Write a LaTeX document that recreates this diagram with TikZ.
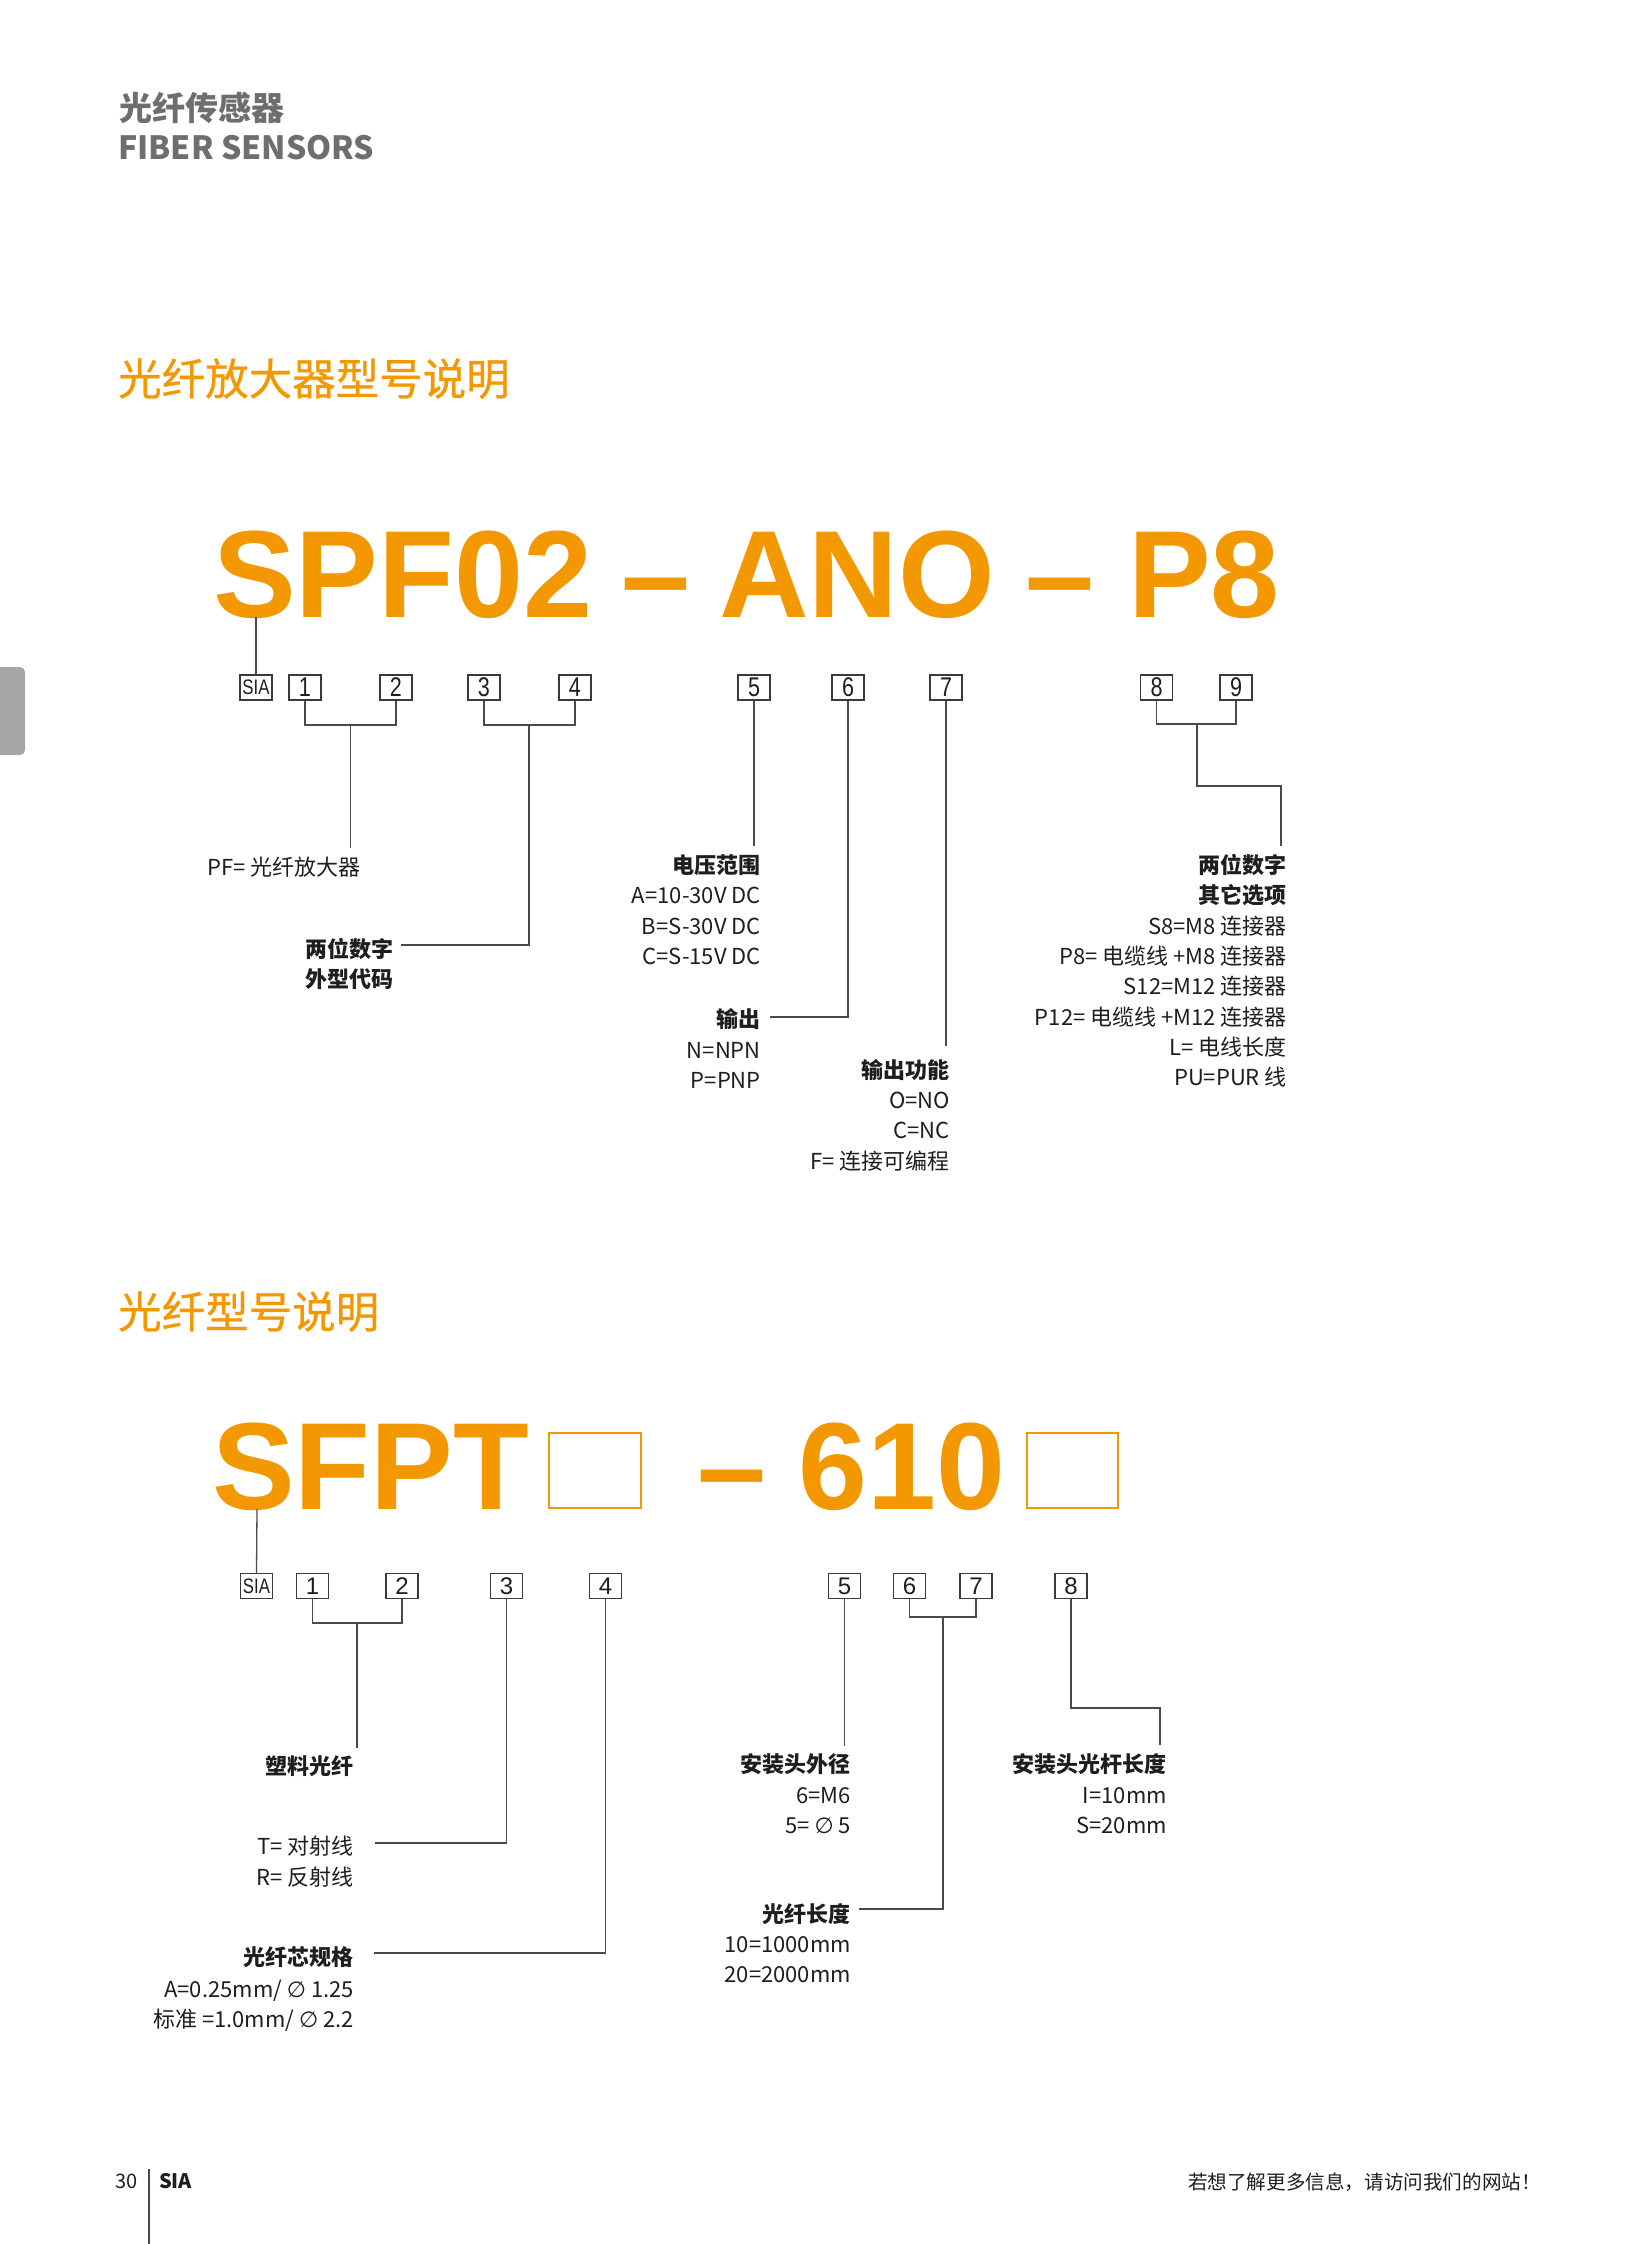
\documentclass[tikz,border=0pt]{standalone}
\usepackage{fontspec}
\setmainfont{Noto Sans CJK SC}
\newfontfamily\titlef{Noto Sans CJK SC}[FakeBold=0.6]
\newfontfamily\bigf{Liberation Sans}
\newfontfamily\narrowf{Liberation Sans}[FakeStretch=0.8]
\newfontfamily\symf{DejaVu Sans}
\definecolor{sorange}{HTML}{F39800}
\definecolor{hgray}{HTML}{6E6E6E}
\definecolor{tabgray}{HTML}{A6A6A6}
\definecolor{textc}{HTML}{1E1E1E}
\definecolor{boxc}{HTML}{3A3A3A}
\definecolor{linec}{HTML}{4A4A4A}
\tikzset{
  numbox/.style={draw=boxc, line width=1.4pt, minimum width=32pt, minimum height=25pt, inner sep=0pt, font=\narrowf\fontsize{27}{27}\selectfont, text=textc},
  numboxb/.style={numbox, font=\bigf\fontsize{24}{24}\selectfont},
  lbl/.style={inner sep=0pt, font=\fontsize{22}{30}\selectfont, text=textc},
  lblb/.style={inner sep=0pt, font=\bfseries\fontsize{22}{30}\selectfont, text=textc},
  conn/.style={draw=linec, line width=1.3pt},
  big/.style={inner sep=0pt, anchor=base west, font=\bigf\bfseries\fontsize{124}{124}\selectfont, text=sorange},
  sqbox/.style={draw=sorange, line width=2.2pt},
  stitle/.style={inner sep=0pt, anchor=base west, font=\titlef\fontsize{43.5}{44}\selectfont, text=sorange}
}
\begin{document}
\begin{tikzpicture}[x=1pt,y=-1pt]
\useasboundingbox (0,0) rectangle (1636,2244);
\fill[white] (0,0) rectangle (1636,2244);
% side tab
\fill[tabgray, rounded corners=5pt] (-10,667) rectangle (25,755);
% header
\node[inner sep=0pt, anchor=base west, text=hgray, font=\bfseries\fontsize{33}{33}\selectfont] (h1) at (119,120) {光纤传感器};
\node[inner sep=0pt, anchor=base west, text=hgray, font=\bfseries\fontsize{32}{32}\selectfont] (h2) at (118,159) {FIBER SENSORS};
% section 1
\node[stitle] (st1) at (118,395) {光纤放大器型号说明};
\node[big] (t1a) at (213,617) {SPF02};
\node[big] (t1b) at (621,617) {–};
\node[big] (t1c) at (719,617) {ANO};
\node[big] (t1d) at (1025,617) {–};
\node[big] (t1e) at (1128,617) {P8};
\coordinate (s1) at (256,617);
% boxes row 1
\node[numbox] (a0) at (256,687.5) {\fontsize{21}{21}\selectfont SIA};
\node[numbox] (a1) at (305,687.5) {1};
\node[numbox] (a2) at (396,687.5) {2};
\node[numbox] (a3) at (484,687.5) {3};
\node[numbox] (a4) at (575,687.5) {4};
\node[numbox] (a5) at (754,687.5) {5};
\node[numbox] (a6) at (848,687.5) {6};
\node[numbox] (a7) at (946,687.5) {7};
\node[numbox] (a8) at (1156.5,687.5) {8};
\node[numbox] (a9) at (1236,687.5) {9};
% connector points row 1
\coordinate (j12) at (350.5,725);
\coordinate (e12) at (350.5,848);
\coordinate (j34) at (529,725);
\coordinate (e34) at (401,945);
\coordinate (e5) at (754,846);
\coordinate (e6) at (770,1017);
\coordinate (e7) at (946,1046);
\coordinate (j89) at (1197,724);
\coordinate (k89) at (1197,786);
\coordinate (e89) at (1281,846);
\draw[conn] (s1) -- (a0.north);
\draw[conn] (a1.south) |- (j12) -| (a2.south);
\draw[conn] (j12) -- (e12);
\draw[conn] (a3.south) |- (j34) -| (a4.south);
\draw[conn] (j34) |- (e34);
\draw[conn] (a5.south) -- (e5);
\draw[conn] (a6.south) |- (e6);
\draw[conn] (a7.south) -- (e7);
\draw[conn] (a8.south) |- (j89) -| (a9.south);
\draw[conn] (j89) -- (k89) -| (e89);
% labels row 1
\node[lbl, anchor=base east] (pf) at (361,875) {PF= 光纤放大器};
\node[lblb, anchor=base west] (w1) at (305,957) {两位数字};
\node[lblb, anchor=base west] (w2) at (305,987) {外型代码};
\node[lblb, anchor=base east] (v0) at (761,873) {电压范围};
\node[lbl, anchor=base east] (v1) at (761,903.5) {A=10-30V DC};
\node[lbl, anchor=base east] (v2) at (761,934) {B=S-30V DC};
\node[lbl, anchor=base east] (v3) at (761,964) {C=S-15V DC};
\node[lblb, anchor=base east] (o0) at (761,1027) {输出};
\node[lbl, anchor=base east] (o1) at (761,1058) {N=NPN};
\node[lbl, anchor=base east] (o2) at (761,1088) {P=PNP};
\node[lblb, anchor=base east] (f0) at (950,1078) {输出功能};
\node[lbl, anchor=base east] (f1) at (950,1108) {O=NO};
\node[lbl, anchor=base east] (f2) at (950,1138) {C=NC};
\node[lbl, anchor=base east] (f3) at (950,1169) {F= 连接可编程};
\node[lblb, anchor=base east] (r0) at (1287,873) {两位数字};
\node[lblb, anchor=base east] (r1) at (1287,903.5) {其它选项};
\node[lbl, anchor=base east] (r2) at (1287,934) {S8=M8 连接器};
\node[lbl, anchor=base east] (r3) at (1287,964) {P8= 电缆线 +M8 连接器};
\node[lbl, anchor=base east] (r4) at (1287,994.5) {S12=M12 连接器};
\node[lbl, anchor=base east] (r5) at (1287,1025) {P12= 电缆线 +M12 连接器};
\node[lbl, anchor=base east] (r6) at (1287,1055) {L= 电线长度};
\node[lbl, anchor=base east] (r7) at (1287,1085) {PU=PUR 线};
% section 2
\node[stitle] (st2) at (118,1328) {光纤型号说明};
\node[big] (t2a) at (212,1509) {SFPT};
\draw[sqbox] (549,1433) rectangle (641,1508);
\node[big] (t2b) at (697,1509) {–};
\node[big] (t2c) at (798,1509) {610};
\draw[sqbox] (1027,1433) rectangle (1118,1508);
\coordinate (s2) at (257,1509);
% boxes row 2
\node[numbox] (b0) at (256.5,1586) {\fontsize{21}{21}\selectfont SIA};
\node[numboxb] (b1) at (312.5,1586) {1};
\node[numboxb] (b2) at (402,1586) {2};
\node[numboxb] (b3) at (506.5,1586) {3};
\node[numboxb] (b4) at (605.5,1586) {4};
\node[numboxb] (b5) at (844.5,1586) {5};
\node[numboxb] (b6) at (909.5,1586) {6};
\node[numboxb] (b7) at (976,1586) {7};
\node[numboxb] (b8) at (1071,1586) {8};
\coordinate (jb12) at (357,1623);
\coordinate (eb12) at (357,1748);
\coordinate (eb3) at (375,1843);
\coordinate (eb4) at (374,1953);
\coordinate (eb5) at (844.5,1746);
\coordinate (jb67) at (943,1617);
\coordinate (eb67) at (859,1909);
\coordinate (kb8) at (1071,1708);
\coordinate (eb8) at (1160,1745);
\draw[conn] (s2) -- (b0.north);
\draw[conn] (b1.south) |- (jb12) -| (b2.south);
\draw[conn] (jb12) -- (eb12);
\draw[conn] (b3.south) |- (eb3);
\draw[conn] (b4.south) |- (eb4);
\draw[conn] (b5.south) -- (eb5);
\draw[conn] (b6.south) |- (jb67) -| (b7.south);
\draw[conn] (jb67) |- (eb67);
\draw[conn] (b8.south) -- (kb8) -| (eb8);
% labels row 2
\node[lblb, anchor=base east] (p0) at (354,1774) {塑料光纤};
\node[lbl, anchor=base east] (q1) at (354,1854) {T= 对射线};
\node[lbl, anchor=base east] (q2) at (354,1885) {R= 反射线};
\node[lblb, anchor=base east] (c0) at (354,1965) {光纤芯规格};
\node[lbl, anchor=base east] (c1) at (354,1997) {A=0.25mm/ {\symf ∅} 1.25};
\node[lbl, anchor=base east] (c2) at (354,2027) {标准 =1.0mm/ {\symf ∅} 2.2};
\node[lblb, anchor=base east] (m0) at (851,1772) {安装头外径};
\node[lbl, anchor=base east] (m1) at (851,1803) {6=M6};
\node[lbl, anchor=base east] (m2) at (851,1833) {5= {\symf ∅} 5};
\node[lblb, anchor=base east] (g0) at (851,1922) {光纤长度};
\node[lbl, anchor=base east] (g1) at (851,1952) {10=1000mm};
\node[lbl, anchor=base east] (g2) at (851,1982) {20=2000mm};
\node[lblb, anchor=base east] (n0) at (1167,1772) {安装头光杆长度};
\node[lbl, anchor=base east] (n1) at (1167,1803) {I=10mm};
\node[lbl, anchor=base east] (n2) at (1167,1833) {S=20mm};
% footer
\node[inner sep=0pt, anchor=base east, text=textc, font=\fontsize{20}{20}\selectfont] (pg) at (138,2188) {30};
\node[inner sep=0pt, anchor=base west, text=textc, font=\bfseries\fontsize{20}{20}\selectfont] (brand) at (159,2188) {SIA};
\coordinate (ft1) at (149,2169);
\coordinate (ft2) at (149,2244);
\draw[draw=linec, line width=1.2pt] (ft1) -- (ft2);
\node[inner sep=0pt, anchor=base east, text=textc, font=\fontsize{19.6}{20}\selectfont] (web) at (1541,2189) {若想了解更多信息，请访问我们的网站！};
\end{tikzpicture}
\end{document}
